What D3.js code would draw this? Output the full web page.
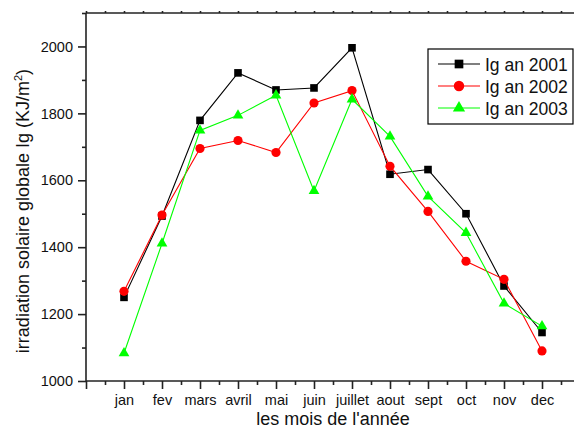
<!DOCTYPE html>
<html>
<head>
<meta charset="utf-8">
<script src="https://cdn.jsdelivr.net/npm/d3@7"></script>
<style>
  body { margin: 0; background: #fff; }
  svg { display: block; font-family: "Liberation Sans", Arial, sans-serif; }
</style>
</head>
<body>
<script>
// months and monthly global irradiation (KJ/m2)
var months = ["jan", "fev", "mars", "avril", "mai", "juin", "juillet", "aout", "sept", "oct", "nov", "dec"];
var ig2001 = [1250, 1493, 1779, 1921, 1870, 1876, 1996, 1618, 1632, 1500, 1284, 1145];
var ig2002 = [1268, 1496, 1695, 1719, 1683, 1831, 1868, 1642, 1507, 1358, 1304, 1090];
var ig2003 = [1083, 1411, 1749, 1794, 1854, 1568, 1842, 1731, 1552, 1443, 1232, 1164];
var seriesNames = ["Ig an 2001", "Ig an 2002", "Ig an 2003"];
var yTicks = [1000, 1200, 1400, 1600, 1800, 2000];

var width = 574,
    height = 430;

var svg = d3.select("body")
    .append("svg")
    .attr("width", width)
    .attr("height", height);

// month index -1 .. 12 across the frame
var x = d3.scaleLinear().domain([-1, 12]).range([86, 580]);
var y = d3.scaleLinear().domain([1000, 2100]).range([381, 13]);

var axisColor = "#222";

// bottom axis: minor ticks at half months, major at months
var minorX = d3.range(-0.5, 12, 1);
var majorX = d3.range(-1, 13, 1);

svg.append("g")
    .attr("transform", "translate(0," + y(1000) + ")")
    .call(d3.axisBottom(x).tickValues(minorX).tickSize(4).tickFormat(""))
    .call(function(g){ g.select(".domain").remove(); });

svg.append("g")
    .attr("class", "xaxis")
    .attr("transform", "translate(0," + y(1000) + ")")
    .call(d3.axisBottom(x).tickValues(majorX).tickSize(8).tickPadding(6)
        .tickFormat(function(d){ return months[d] || ""; }))
    .call(function(g){ g.select(".domain").remove(); });

// left axis
var minorY = d3.range(1100, 2200, 200);
svg.append("g")
    .attr("transform", "translate(" + x(-1) + ",0)")
    .call(d3.axisLeft(y).tickValues(minorY).tickSize(4).tickFormat(""))
    .call(function(g){ g.select(".domain").remove(); });

svg.append("g")
    .attr("transform", "translate(" + x(-1) + ",0)")
    .call(d3.axisLeft(y).tickValues(yTicks).tickSize(8).tickPadding(5).tickFormat(d3.format("d")))
    .call(function(g){ g.select(".domain").remove(); });

// top axis with tiny ticks
svg.append("g")
    .attr("transform", "translate(0," + y(2100) + ")")
    .call(d3.axisTop(x).tickValues(minorX.concat(majorX)).tickSize(2).tickFormat(""))
    .call(function(g){ g.select(".domain").remove(); });

// frame lines
svg.append("line")
    .attr("x1", x(-1)).attr("x2", x(12))
    .attr("y1", y(1000)).attr("y2", y(1000));
svg.append("line")
    .attr("x1", x(-1)).attr("x2", x(12))
    .attr("y1", y(2100)).attr("y2", y(2100));
svg.append("line")
    .attr("x1", x(-1)).attr("x2", x(-1))
    .attr("y1", y(2100)).attr("y2", y(1000));

svg.selectAll("line")
    .attr("stroke", axisColor)
    .attr("stroke-width", 1.6);
svg.selectAll(".tick line")
    .attr("stroke", axisColor)
    .attr("stroke-width", 1.6);
svg.selectAll(".tick text")
    .attr("fill", "#111")
    .style("font-size", "14.5px")
    .style("font-family", "'Liberation Sans', Arial, sans-serif");

// axis titles
svg.append("text")
    .attr("x", 333)
    .attr("y", 425)
    .attr("text-anchor", "middle")
    .style("font-size", "18px")
    .attr("fill", "#111")
    .text("les mois de l'année");

var ytitle = svg.append("text")
    .attr("transform", "translate(29,211) rotate(-90)")
    .attr("text-anchor", "middle")
    .style("font-size", "18px")
    .attr("fill", "#111");
ytitle.append("tspan").text("irradiation solaire globale Ig (KJ/m");
ytitle.append("tspan").attr("dy", -7).style("font-size", "11px").text("2");
ytitle.append("tspan").attr("dy", 7).text(")");

// series
var series = [
    {name: seriesNames[0], values: ig2001, color: "#000000", symbol: d3.symbolSquare, size: 58},
    {name: seriesNames[1], values: ig2002, color: "#ff0000", symbol: d3.symbolCircle, size: 66},
    {name: seriesNames[2], values: ig2003, color: "#00ff00", symbol: d3.symbolTriangle, size: 50}
];

var line = d3.line()
    .x(function(d, i){ return x(i); })
    .y(function(d){ return y(d); });

series.forEach(function(s){
    var g = svg.append("g");
    g.append("path")
        .datum(s.values)
        .attr("d", line)
        .attr("fill", "none")
        .attr("stroke", s.color)
        .attr("stroke-width", 1.1);
    g.selectAll(".pt")
        .data(s.values)
        .enter()
        .append("path")
        .attr("transform", function(d, i){ return "translate(" + x(i) + "," + y(d) + ")"; })
        .attr("d", d3.symbol().type(s.symbol).size(s.size))
        .attr("fill", s.color);
});

// legend
var legend = svg.append("g");
legend.append("rect")
    .attr("x", 428).attr("y", 49)
    .attr("width", 145).attr("height", 75)
    .attr("fill", "#fff")
    .attr("stroke", "#000")
    .attr("stroke-width", 1.2);

series.forEach(function(s, i){
    var cy = 64 + i * 22;
    legend.append("line")
        .attr("x1", 438).attr("x2", 480)
        .attr("y1", cy).attr("y2", cy)
        .attr("stroke", s.color)
        .attr("stroke-width", 1.1);
    legend.append("path")
        .attr("transform", "translate(459," + cy + ")")
        .attr("d", d3.symbol().type(s.symbol).size(s.size * 1.3))
        .attr("fill", s.color);
    legend.append("text")
        .attr("x", 485)
        .attr("y", cy + 7)
        .style("font-size", "17.5px")
        .attr("fill", "#111")
        .text(s.name);
});
</script>
</body>
</html>
